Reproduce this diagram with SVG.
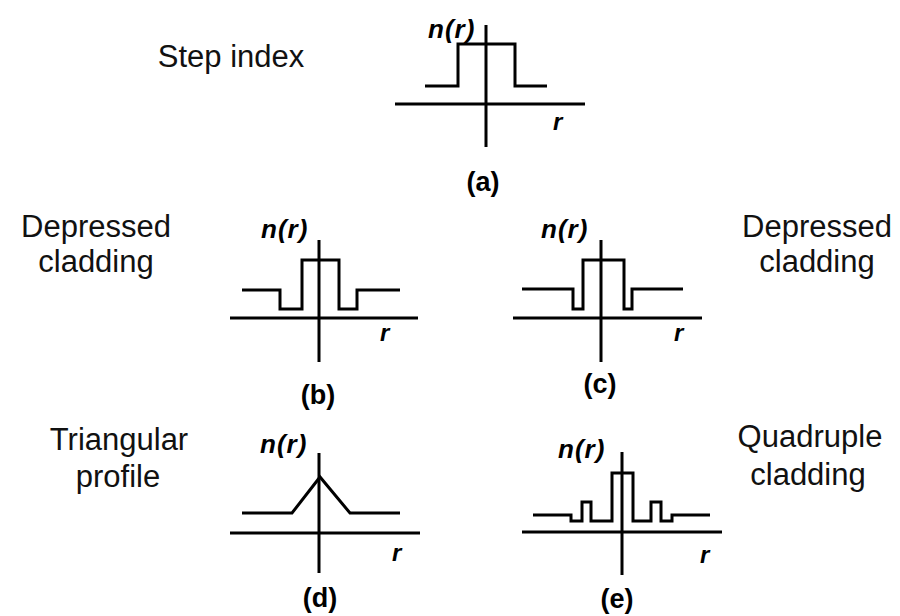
<svg xmlns="http://www.w3.org/2000/svg" width="900" height="616" viewBox="0 0 900 616">
<style>
.ax{stroke:#000;stroke-width:3;fill:none;stroke-linecap:butt}
.pf{stroke:#000;stroke-width:3;fill:none;stroke-linejoin:miter}
.lbl{font-family:"Liberation Sans",Arial,sans-serif;font-size:31px;fill:#111;text-anchor:middle}
.nr{font-family:"Liberation Sans",Arial,sans-serif;font-size:26px;font-style:italic;font-weight:bold;fill:#000;letter-spacing:1px}
.r{font-family:"Liberation Sans",Arial,sans-serif;font-size:24px;font-style:italic;font-weight:bold;fill:#000}
.cap{font-family:"Liberation Sans",Arial,sans-serif;font-size:27px;font-weight:bold;fill:#000;text-anchor:middle}
</style>
<rect width="900" height="616" fill="#fff"/>

<g id="panel-a">
  <text class="lbl" x="231" y="67">Step index</text>
  <path class="ax" d="M395 104H585M486 25V147"/>
  <path class="pf" d="M425 86H458V44H515V86H547"/>
  <text class="nr" x="428" y="38">n(r)</text>
  <text class="r" x="553" y="130">r</text>
  <text class="cap" x="483" y="191">(a)</text>
</g>

<g id="panel-b">
  <text class="lbl" x="96"><tspan x="96" y="237">Depressed</tspan><tspan x="96" y="272">cladding</tspan></text>
  <path class="ax" d="M230 318H418M319 240V362"/>
  <path class="pf" d="M242 290H280V309H302V260H339V309H357V290H400"/>
  <text class="nr" x="261" y="238">n(r)</text>
  <text class="r" x="380" y="341">r</text>
  <text class="cap" x="318" y="404">(b)</text>
</g>

<g id="panel-c">
  <text class="lbl" x="817"><tspan x="817" y="237">Depressed</tspan><tspan x="817" y="272">cladding</tspan></text>
  <path class="ax" d="M513 318H702M601 240V362"/>
  <path class="pf" d="M522 289H573V309H583V260H624V309H632V289H683"/>
  <text class="nr" x="541" y="238">n(r)</text>
  <text class="r" x="674" y="341">r</text>
  <text class="cap" x="600" y="393">(c)</text>
</g>

<g id="panel-d">
  <text class="lbl" x="119"><tspan x="119" y="450">Triangular</tspan><tspan x="118" y="487">profile</tspan></text>
  <path class="ax" d="M230 533H420M319 453V573"/>
  <path class="pf" d="M242 513H292L320 477L350 513H400"/>
  <text class="nr" x="260" y="453">n(r)</text>
  <text class="r" x="392" y="561">r</text>
  <text class="cap" x="320" y="607">(d)</text>
</g>

<g id="panel-e">
  <text class="lbl" x="810"><tspan x="810" y="447">Quadruple</tspan><tspan x="808" y="485">cladding</tspan></text>
  <path class="ax" d="M522 532H722M622 452V575"/>
  <path class="pf" d="M533 515H571V521H582V502H591V521H612V473H633V521H651V502H661V521H672V515H710"/>
  <text class="nr" x="558" y="458">n(r)</text>
  <text class="r" x="700" y="563">r</text>
  <text class="cap" x="617" y="608">(e)</text>
</g>

<g id="connectors"></g>
</svg>
